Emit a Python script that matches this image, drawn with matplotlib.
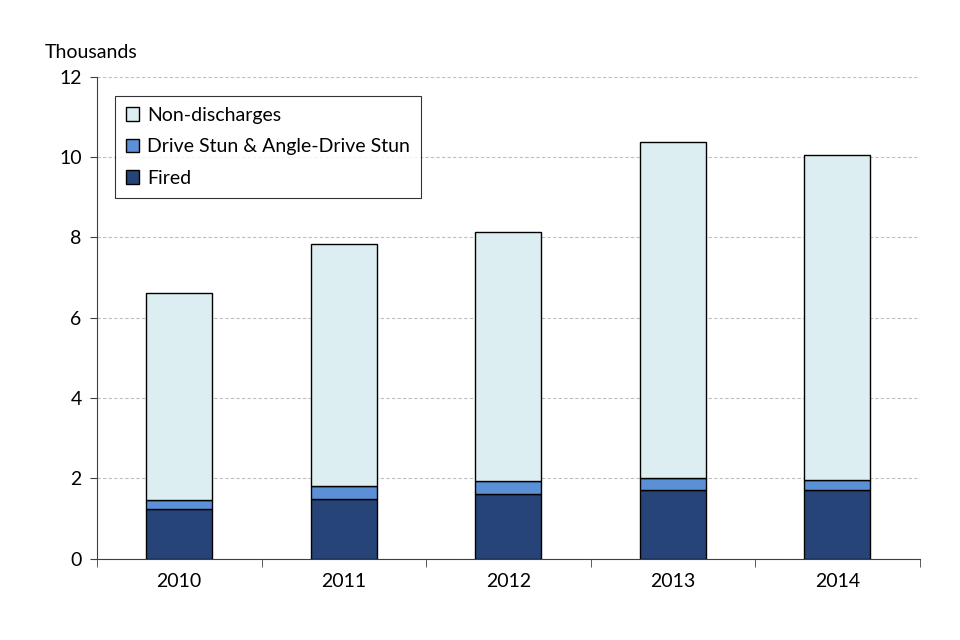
import matplotlib
matplotlib.use("Agg")
import matplotlib.pyplot as plt
import numpy as np

years = ["2010", "2011", "2012", "2013", "2014"]
fired = [1.24, 1.49, 1.62, 1.72, 1.72]
drive_stun = [0.23, 0.33, 0.31, 0.30, 0.25]
non_discharges = [5.15, 6.01, 6.21, 8.36, 8.08]
y_ticks = [0, 2, 4, 6, 8, 10, 12]

plt.rcParams['font.family'] = ['Lato', 'DejaVu Sans']

fig = plt.figure(figsize=(9.6, 6.4), dpi=100)
ax = fig.add_axes([0.101, 0.127, 0.857, 0.753])

x = np.arange(len(years))
w = 0.4
c_fired = "#264478"
c_drive = "#5B8FD6"
c_non = "#DDEEF3"

b1 = ax.bar(x, fired, w, color=c_fired, edgecolor="black", linewidth=1, label="Fired", zorder=3)
b2 = ax.bar(x, drive_stun, w, bottom=fired, color=c_drive, edgecolor="black", linewidth=1,
            label="Drive Stun & Angle-Drive Stun", zorder=3)
bot = np.array(fired) + np.array(drive_stun)
b3 = ax.bar(x, non_discharges, w, bottom=bot, color=c_non, edgecolor="black", linewidth=1,
            label="Non-discharges", zorder=3)

ax.set_xlim(-0.5, len(years) - 0.5)
ax.set_ylim(0, 12)
ax.set_yticks(y_ticks)
ax.set_yticklabels([str(t) for t in y_ticks], fontsize=14)
ax.set_xticks(x)
ax.set_xticklabels(years, fontsize=14)
ax.tick_params(axis='x', length=0, pad=10)
ax.tick_params(axis='y', length=5, direction='out', color='#404040', pad=6)
ax.set_xticks(np.arange(-0.5, len(years), 1.0), minor=True)
ax.tick_params(axis='x', which='minor', length=6, direction='out', color='#404040')

for s in ['top', 'right']:
    ax.spines[s].set_visible(False)
ax.spines['left'].set_color('#404040')
ax.spines['bottom'].set_color('#404040')
ax.yaxis.grid(True, linestyle=(0, (3, 2)), color='#BFBFBF', linewidth=0.8, zorder=0)
ax.set_axisbelow(True)

fig.text(0.047, 0.905, "Thousands", fontsize=14, ha='left', va='bottom')

leg = ax.legend(handles=[b3, b2, b1], loc='upper left', bbox_to_anchor=(0.022, 0.96),
                borderaxespad=0,
                fontsize=14, frameon=True, fancybox=False, edgecolor='black',
                handlelength=0.7, handleheight=0.7, handletextpad=0.4,
                labelspacing=0.75, borderpad=0.55)
leg.get_frame().set_linewidth(0.8)

fig.savefig("out.png", dpi=100)
